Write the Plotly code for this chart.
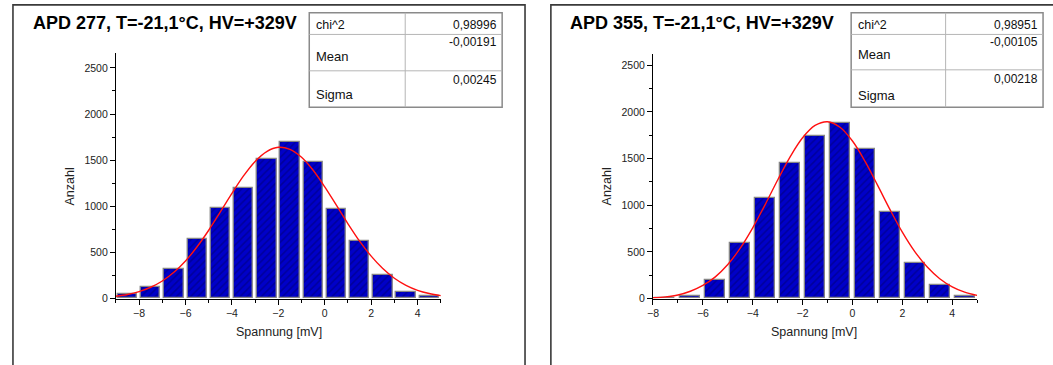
import plotly.graph_objects as go

# ---------------- data ----------------
titles = ["APD 277, T=-21,1°C, HV=+329V", "APD 355, T=-21,1°C, HV=+329V"]

bins_left = [-8.5, -7.5, -6.5, -5.5, -4.5, -3.5, -2.5, -1.5, -0.5, 0.5, 1.5, 2.5, 3.5, 4.5]
counts_left = [53, 124, 316, 642, 980, 1202, 1507, 1699, 1475, 968, 621, 252, 67, 21]

bins_right = [-7.5, -6.5, -5.5, -4.5, -3.5, -2.5, -1.5, -0.5, 0.5, 1.5, 2.5, 3.5, 4.5]
counts_right = [5, 28, 197, 595, 1074, 1454, 1743, 1877, 1606, 926, 377, 144, 25]

# fitted Gaussian curve
fit_x_left = [-9, -8.5, -8, -7.5, -7, -6.5, -6, -5.5, -5, -4.5, -4, -3.5, -3, -2.5, -2,
              -1.5, -1, -0.5, 0, 0.5, 1, 1.5, 2, 2.5, 3, 3.5, 4, 4.5, 5]
fit_y_left = [25, 44, 75, 122, 190, 284, 407, 561, 740, 938, 1140, 1329, 1486, 1593, 1639,
              1617, 1531, 1390, 1210, 1011, 810, 622, 459, 325, 220, 143, 89, 54, 31]

fit_x_right = [-8, -7.5, -7, -6.5, -6, -5.5, -5, -4.5, -4, -3.5, -3, -2.5, -2, -1.5, -1,
               -0.5, 0, 0.5, 1, 1.5, 2, 2.5, 3, 3.5, 4, 4.5, 5]
fit_y_right = [8, 18, 38, 78, 140, 232, 364, 540, 758, 1007, 1270, 1519, 1723, 1855, 1895,
               1836, 1688, 1472, 1218, 956, 712, 503, 337, 212, 125, 68, 33]

table_labels = ["chi^2", "Mean", "Sigma"]
table_left = ["0,98996", "-0,00191", "0,00245"]
table_right = ["0,98951", "-0,00105", "0,00218"]

x_title = "Spannung [mV]"
y_title = "Anzahl"

# ---------------- layout helpers ----------------
W, H = 1053, 365
def px(x):
    return x / W
def py(y):
    return 1 - y / H

FONT = "Arial, Liberation Sans, sans-serif"
BAR_FILL = "#0000c8"
BAR_HATCH = "#00006e"

fig = go.Figure()

fig.add_trace(go.Bar(
    x=bins_left, y=counts_left, width=0.83, xaxis="x", yaxis="y",
    marker=dict(color=BAR_FILL, line=dict(color="#858585", width=1.3),
                pattern=dict(shape="/", fgcolor=BAR_HATCH, size=5, solidity=0.3)),
    showlegend=False, hoverinfo="skip"))
fig.add_trace(go.Scatter(
    x=fit_x_left, y=fit_y_left, mode="lines", xaxis="x", yaxis="y",
    line=dict(color="#ff1010", width=1.4, shape="spline"), showlegend=False))

fig.add_trace(go.Bar(
    x=bins_right, y=counts_right, width=0.8, xaxis="x2", yaxis="y2",
    marker=dict(color=BAR_FILL, line=dict(color="#858585", width=1.3),
                pattern=dict(shape="/", fgcolor=BAR_HATCH, size=5, solidity=0.3)),
    showlegend=False, hoverinfo="skip"))
fig.add_trace(go.Scatter(
    x=fit_x_right, y=fit_y_right, mode="lines", xaxis="x2", yaxis="y2",
    line=dict(color="#ff1010", width=1.4, shape="spline"), showlegend=False))

tickfont = dict(family=FONT, size=10.5, color="#222222")
def xaxis(domain, rng, anchor):
    return dict(domain=domain, range=rng, anchor=anchor, tick0=-8, dtick=2,
                showline=True, linecolor="#000000", linewidth=1, ticks="outside",
                ticklen=5, tickcolor="#000000", tickfont=tickfont, showgrid=False,
                zeroline=False, fixedrange=True,
                minor=dict(ticks="outside", ticklen=3, dtick=1, tick0=-9, tickcolor="#000000"))
def yaxis(domain, rng, anchor):
    return dict(domain=domain, range=rng, anchor=anchor, tick0=0, dtick=500,
                showline=True, linecolor="#000000", linewidth=1, ticks="outside",
                ticklen=5, tickcolor="#000000", tickfont=tickfont, showgrid=False,
                zeroline=False, fixedrange=True,
                minor=dict(ticks="outside", ticklen=3, dtick=250, tickcolor="#000000"))

fig.update_layout(
    width=W, height=H, margin=dict(l=0, r=0, t=0, b=0),
    paper_bgcolor="white", plot_bgcolor="white", bargap=0,
    xaxis=xaxis([px(110.5), px(437.3)], [-9, 5], "y"),
    yaxis=yaxis([py(303.5), py(54)], [0, 2660], "x"),
    xaxis2=xaxis([px(650.7), px(976.7)], [-8, 5], "y2"),
    yaxis2=yaxis([py(303.5), py(55)], [0, 2620], "x2"),
)

shapes = []
annotations = []

# panel borders
for x0, x1 in [(7, 522), (548, 1070)]:
    shapes.append(dict(type="rect", xref="paper", yref="paper",
                       x0=px(x0), x1=px(x1), y0=py(400), y1=py(5),
                       line=dict(color="#3a3a3a", width=1.6), fillcolor="rgba(0,0,0,0)"))

# titles
for tx, t in [(25, titles[0]), (565, titles[1])]:
    annotations.append(dict(xref="paper", yref="paper", x=px(tx), y=py(23),
                            xanchor="left", yanchor="middle", showarrow=False,
                            text="<b>" + t + "</b>",
                            font=dict(family=FONT, size=18, color="#000000")))

# axis titles
for cx, cy in [(275, 338), (813, 338)]:
    annotations.append(dict(xref="paper", yref="paper", x=px(cx), y=py(cy),
                            xanchor="center", yanchor="middle", showarrow=False,
                            text=x_title, font=dict(family=FONT, size=12.5, color="#222222")))
for cx, cy in [(64, 190), (604, 190)]:
    annotations.append(dict(xref="paper", yref="paper", x=px(cx), y=py(cy),
                            xanchor="center", yanchor="middle", showarrow=False,
                            textangle=-90, text=y_title,
                            font=dict(family=FONT, size=12.5, color="#222222")))

# stats tables
def table(left, right, div, rows, vals, label_y, value_y):
    top, bottom = 13, 109
    shapes.append(dict(type="rect", xref="paper", yref="paper",
                       x0=px(left), x1=px(right), y0=py(bottom), y1=py(top),
                       line=dict(color="#8a8a8a", width=1.5), fillcolor="white"))
    for ry in rows:
        shapes.append(dict(type="line", xref="paper", yref="paper",
                           x0=px(left), x1=px(right), y0=py(ry), y1=py(ry),
                           line=dict(color="#b5b5b5", width=1)))
    shapes.append(dict(type="line", xref="paper", yref="paper",
                       x0=px(div), x1=px(div), y0=py(bottom), y1=py(top),
                       line=dict(color="#b5b5b5", width=1)))
    for i, (lab, v, ly, vy) in enumerate(zip(table_labels, vals, label_y, value_y)):
        annotations.append(dict(xref="paper", yref="paper", x=px(left + 6), y=py(ly),
                                xanchor="left", yanchor="middle", showarrow=False, text=lab,
                                font=dict(family=FONT, size=12.5 if i == 0 else 13, color="#111111"),
                                borderpad=0))
        annotations.append(dict(xref="paper", yref="paper", x=px(right - 4), y=py(vy),
                                xanchor="right", yanchor="middle", showarrow=False, text=v,
                                font=dict(family=FONT, size=12, color="#111111"),
                                borderpad=0))

table(305, 499, 401.5, [35, 72], table_left, [25, 57, 96], [25, 43, 81])
table(850, 1043, 945, [35, 71], table_right, [25, 55, 97], [25, 43, 80])

fig.update_layout(shapes=shapes, annotations=annotations)
fig.write_html("out.html")
